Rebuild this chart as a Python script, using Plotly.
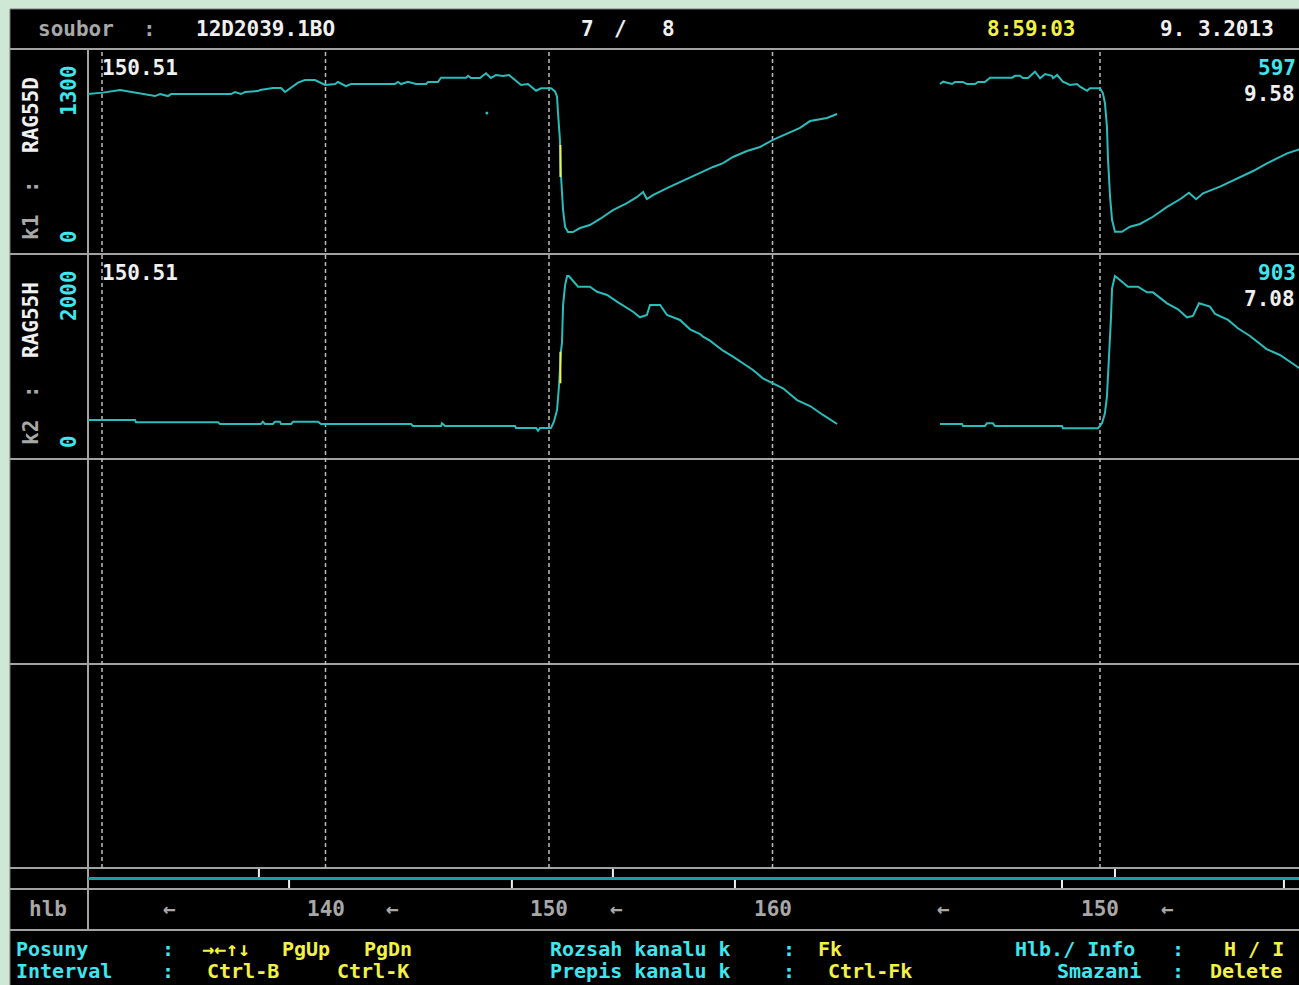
import plotly.graph_objects as go

W, H = 1299, 985

# ---- data ---------------------------------------------------------------
# channel k1 : RAG55D, first run (depth, value)
k1_run1_depth = [129.37, 130.04, 130.81, 131.61, 132.37, 132.60, 132.95, 133.09, 135.77, 135.95,
                 136.22, 136.40, 136.98, 137.07, 137.65, 138.01, 138.19, 138.77, 139.08, 139.53,
                 139.98, 140.43, 140.56, 140.92, 141.14, 143.11, 143.24, 143.38, 143.69, 144.05,
                 144.50, 144.59, 145.03, 145.17, 146.29, 146.38, 146.51, 146.91, 147.18, 147.40,
                 147.63, 147.94, 148.21, 148.48, 148.75, 149.06, 149.42, 149.64, 150.09, 150.27,
                 150.36, 150.40, 150.49, 150.54, 150.63, 150.72, 150.85, 151.07, 151.39, 151.83,
                 152.28, 152.86, 153.49, 153.94, 154.21, 154.38, 154.65, 155.28, 155.86, 156.76,
                 157.34, 157.79, 158.23, 158.86, 159.44, 160.02, 160.64, 161.23, 161.68, 162.44,
                 162.89]
k1_run1_value = [1018, 1027, 1044, 1025, 1005, 1018, 1005, 1018, 1018, 1031,
                 1018, 1031, 1037, 1044, 1057, 1057, 1031, 1091, 1108, 1108,
                 1076, 1082, 1095, 1069, 1082, 1082, 1095, 1082, 1097, 1082,
                 1082, 1095, 1095, 1123, 1123, 1135, 1121, 1121, 1151, 1121,
                 1140, 1133, 1140, 1108, 1076, 1082, 1039, 1055, 1055, 1035,
                 1001, 903, 724, 487, 275, 167, 134, 134, 160, 179,
                 218, 275, 320, 359, 391, 346, 371, 416, 455, 512,
                 551, 576, 615, 653, 679, 724, 762, 801, 845, 865,
                 890]

# channel k1 : RAG55D, second run
k1_run2_depth = [142.84, 142.98, 143.38, 143.51, 143.87, 144.05, 144.41, 144.54, 144.85, 145.08,
                 146.06, 146.20, 146.42, 146.55, 146.78, 147.09, 147.32, 147.54, 147.85, 147.90,
                 148.08, 148.34, 148.66, 148.97, 149.11, 149.42, 149.55, 150.00, 150.13, 150.22,
                 150.31, 150.36, 150.45, 150.54, 150.67, 150.98, 151.34, 151.79, 152.37, 153.00,
                 153.58, 153.98, 154.30, 154.61, 155.37, 156.13, 156.85, 157.47, 158.37, 158.93]
k1_run2_value = [1082, 1097, 1082, 1095, 1095, 1082, 1082, 1095, 1095, 1123,
                 1123, 1135, 1135, 1121, 1121, 1161, 1119, 1146, 1135, 1119,
                 1140, 1097, 1076, 1082, 1065, 1039, 1055, 1055, 1023, 961,
                 809, 596, 361, 211, 136, 136, 168, 186, 232, 295,
                 344, 386, 344, 382, 425, 478, 525, 574, 638, 664]

# channel k2 : RAG55H, first run
k2_run1_depth = [129.37, 131.48, 131.52, 135.19, 135.28, 137.11, 137.20, 137.29, 137.65, 137.74,
                 137.96, 138.01, 138.46, 138.55, 139.66, 139.80, 143.83, 143.91, 145.17, 145.21,
                 145.35, 148.48, 148.52, 149.42, 149.51, 149.60, 150.09, 150.22, 150.36, 150.45,
                 150.54, 150.58, 150.63, 150.72, 150.81, 150.89, 151.30, 151.83, 152.15, 152.60,
                 153.04, 153.49, 153.76, 154.07, 154.38, 154.52, 154.97, 155.28, 155.86, 156.31,
                 156.76, 156.89, 157.20, 157.79, 158.23, 159.13, 159.57, 160.02, 160.47, 161.10,
                 161.68, 162.26, 162.89]
k2_run1_value = [374, 374, 352, 352, 335, 335, 358, 335, 335, 358,
                 358, 335, 335, 358, 358, 335, 335, 315, 315, 342,
                 315, 315, 296, 296, 269, 296, 296, 358, 473, 719,
                 1064, 1133, 1507, 1704, 1793, 1793, 1688, 1688, 1638, 1606,
                 1540, 1475, 1441, 1386, 1409, 1507, 1507, 1409, 1360, 1268,
                 1222, 1195, 1156, 1057, 998, 867, 785, 736, 687, 571,
                 512, 424, 335]

# channel k2 : RAG55H, second run
k2_run2_depth = [142.84, 143.83, 143.87, 144.85, 144.94, 145.21, 145.30, 148.30, 148.34, 149.91,
                 150.09, 150.22, 150.31, 150.40, 150.49, 150.54, 150.67, 150.89, 151.25, 151.70,
                 152.10, 152.37, 153.00, 153.49, 153.89, 154.16, 154.43, 154.92, 155.15, 155.73,
                 156.17, 156.71, 157.47, 158.05, 158.93]
k2_run2_value = [335, 335, 315, 315, 342, 342, 315, 315, 293, 293,
                 342, 440, 604, 949, 1376, 1672, 1793, 1754, 1688, 1688,
                 1632, 1632, 1524, 1465, 1386, 1399, 1524, 1491, 1419, 1360,
                 1278, 1202, 1071, 1015, 884]

# stray sample in k1
k1_spike_depth = [147.22]
k1_spike_value = [897]

# cursor
cursor_depth = 150.51
cursor_k1 = [692, 487]
cursor_k2 = [736, 1047]

# channel scales
k1_range = [0, 1300]
k2_range = [0, 2000]
k1_right = ["597", "9.58"]
k2_right = ["903", "7.08"]

# depth grid, labels and markers per run
grid_run1 = [130, 140, 150, 160]
grid_run2 = [150]
labels_run1 = [140, 150, 160]
labels_run2 = [150]
arrows_run1 = [133, 143, 153]
arrows_run2 = [143, 153]
marks_up_run1 = [137.02, 152.86]
marks_up_run2 = [150.67]
marks_dn_run1 = [138.37, 148.34, 158.32]
marks_dn_run2 = [148.30, 158.23]

# ---- screen geometry --------------------------------------------------------
PXM = 22.35                       # pixels per metre
X_LEFT = 88                       # left edge of the trace area
SEG2_SHIFT = (1100 - 549) / PXM   # second run is drawn shifted to the right
D_LEFT = 150 - (549 - X_LEFT) / PXM
D_RIGHT = 150 + (W - 549) / PXM

GREEN = "#cfe8d5"
TEAL = "#2bbcbc"
CYAN = "#3fe6ee"
YELLOW = "#f2f244"
WHITE = "#f0f0f0"
GRAY = "#a8a8a8"
LINE = "#a2a2a2"
FONT = "DejaVu Sans Mono"


def px(x):
    return x / W


def py(y):
    return 1 - y / H


def shift(depths):
    return [d + SEG2_SHIFT for d in depths]


fig = go.Figure()

for xs, ys, ax in [(k1_run1_depth, k1_run1_value, "y"), (shift(k1_run2_depth), k1_run2_value, "y"),
                   (k2_run1_depth, k2_run1_value, "y2"), (shift(k2_run2_depth), k2_run2_value, "y2")]:
    fig.add_trace(go.Scatter(x=xs, y=ys, yaxis=ax, mode="lines",
                             line=dict(color=TEAL, width=2), hoverinfo="skip"))

fig.add_trace(go.Scatter(x=k1_spike_depth, y=k1_spike_value, mode="markers",
                         marker=dict(color=TEAL, size=3), hoverinfo="skip"))
fig.add_trace(go.Scatter(x=[cursor_depth, cursor_depth], y=cursor_k1, mode="lines",
                         line=dict(color=YELLOW, width=2), hoverinfo="skip"))
fig.add_trace(go.Scatter(x=[cursor_depth, cursor_depth], y=cursor_k2, yaxis="y2", mode="lines",
                         line=dict(color=YELLOW, width=2), hoverinfo="skip"))

shapes = []
# black screen
shapes.append(dict(type="rect", xref="paper", yref="paper", x0=px(10), x1=1.01, y0=-0.01, y1=py(9),
                   fillcolor="black", line=dict(color="#7a7a7a", width=1), layer="below"))
# panel separators
for yy in [49, 254, 459, 664, 868, 889, 930]:
    shapes.append(dict(type="line", xref="paper", yref="paper", x0=px(10), x1=1, y0=py(yy), y1=py(yy),
                       line=dict(color=LINE, width=2), layer="below"))
shapes.append(dict(type="line", xref="paper", yref="paper", x0=px(X_LEFT), x1=px(X_LEFT),
                   y0=py(930), y1=py(49), line=dict(color=LINE, width=2), layer="below"))
# dashed depth grid
for d in grid_run1 + shift(grid_run2):
    shapes.append(dict(type="line", xref="x", yref="paper", x0=d, x1=d, y0=py(868), y1=py(50),
                       line=dict(color="#bcbcbc", width=1.5, dash="4px,3px"), layer="below"))
# depth bar
shapes.append(dict(type="line", xref="paper", yref="paper", x0=px(X_LEFT), x1=1, y0=py(878.5), y1=py(878.5),
                   line=dict(color="#1f9c9c", width=3), layer="below"))
for d in marks_up_run1 + shift(marks_up_run2):
    shapes.append(dict(type="line", xref="x", yref="paper", x0=d, x1=d, y0=py(877), y1=py(869),
                       line=dict(color=WHITE, width=2), layer="below"))
for d in marks_dn_run1 + shift(marks_dn_run2):
    shapes.append(dict(type="line", xref="x", yref="paper", x0=d, x1=d, y0=py(888), y1=py(880),
                       line=dict(color=WHITE, width=2), layer="below"))

ann = []


def text(s, x, y, color, anchor="center", angle=0, xref="paper", size=21):
    ann.append(dict(text=s, x=px(x) if xref == "paper" else x, y=py(y), xref=xref, yref="paper",
                    xanchor=anchor, yanchor="middle", showarrow=False, textangle=angle,
                    font=dict(family=FONT, size=size, color=color, weight="bold")))


# header
text("soubor", 76, 29, GRAY)
text(":", 149, 29, GRAY)
text("12D2039.1BO", 265, 29, WHITE)
text("7", 587, 29, WHITE)
text("/", 620, 29, WHITE)
text("8", 668, 29, WHITE)
text("8:59:03", 1031, 29, YELLOW)
text("9. 3.2013", 1217, 29, WHITE)

# channel panels
for top, k, name, rng, right in [(0, "k1", "RAG55D", k1_range, k1_right),
                                 (205, "k2", "RAG55H", k2_range, k2_right)]:
    text(f"{cursor_depth:.2f}", 140, 68 + top, WHITE)
    text(k, 31, 228 + top, GRAY, angle=-90)
    text(":", 31, 187 + top, GRAY, angle=-90)
    text(name, 31, 115 + top, WHITE, angle=-90)
    text(str(rng[1]), 69, 91 + top, CYAN, angle=-90)
    text(str(rng[0]), 69, 237 + top, CYAN, angle=-90)
    text(right[0], 1256, 68 + top, CYAN, anchor="left")
    text(right[1], 1242, 94 + top, WHITE, anchor="left")

# depth axis
text("hlb", 48, 909, GRAY)
for d in labels_run1:
    text(str(d), d, 909, GRAY, xref="x")
for d in labels_run2:
    text(str(d), d + SEG2_SHIFT, 909, GRAY, xref="x")
for d in arrows_run1 + shift(arrows_run2):
    text("←", d, 909, GRAY, xref="x")

# key help
y1, y2, fs = 949, 971, 20
text("Posuny", 14, y1, CYAN, anchor="left", size=fs)
text("Interval", 14, y2, CYAN, anchor="left", size=fs)
text(":", 168, y1, CYAN, size=fs)
text(":", 168, y2, CYAN, size=fs)
text("→←↑↓", 226, y1, YELLOW, size=fs)
text("PgUp", 306, y1, YELLOW, size=fs)
text("PgDn", 388, y1, YELLOW, size=fs)
text("Ctrl-B", 243, y2, YELLOW, size=fs)
text("Ctrl-K", 373, y2, YELLOW, size=fs)
text("Rozsah kanalu k", 640, y1, CYAN, size=fs)
text("Prepis kanalu k", 640, y2, CYAN, size=fs)
text(":", 789, y1, CYAN, size=fs)
text(":", 789, y2, CYAN, size=fs)
text("Fk", 830, y1, YELLOW, size=fs)
text("Ctrl-Fk", 870, y2, YELLOW, size=fs)
text("Hlb./ Info", 1075, y1, CYAN, size=fs)
text("Smazani", 1099, y2, CYAN, size=fs)
text(":", 1178, y1, CYAN, size=fs)
text(":", 1178, y2, CYAN, size=fs)
text("H / I", 1222, y1, YELLOW, anchor="left", size=fs)
text("Delete", 1208, y2, YELLOW, anchor="left", size=fs)

fig.update_layout(
    width=W, height=H, margin=dict(l=0, r=0, t=0, b=0),
    paper_bgcolor=GREEN, plot_bgcolor="rgba(0,0,0,0)",
    showlegend=False, shapes=shapes, annotations=ann,
    xaxis=dict(domain=[px(X_LEFT), 1], range=[D_LEFT, D_RIGHT], visible=False, fixedrange=True),
    yaxis=dict(domain=[py(253), py(50)], range=k1_range, visible=False, fixedrange=True),
    yaxis2=dict(domain=[py(458), py(255)], range=k2_range, visible=False, fixedrange=True, anchor="x"),
)

# the page's default body margin would push the screen 8px off
fig.write_html("out.html", config={"displayModeBar": False},
               post_script="document.body.style.margin = '0px';")
